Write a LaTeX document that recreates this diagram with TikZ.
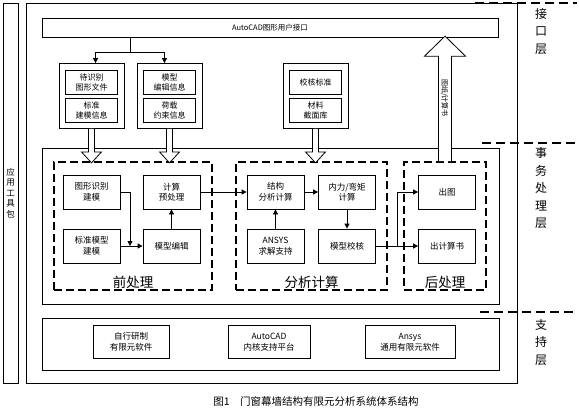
\documentclass[tikz,border=0pt]{standalone}
\usepackage{fontspec}
\setmainfont{Noto Sans CJK SC}
\usepackage{tikz}
\usetikzlibrary{arrows.meta,positioning}

\begin{document}
\begin{tikzpicture}[
x=1pt,y=-1pt,
font=\fontsize{8.5}{10.5}\selectfont,
line width=0.8pt,
frame/.style={draw, rectangle, inner sep=0pt},
blk/.style={draw, rectangle, minimum width=57pt, minimum height=34pt, align=center, inner sep=1pt},
item/.style={draw, rectangle, minimum width=52pt, minimum height=24pt, align=center, inner sep=1pt, font=\fontsize{8}{10}\selectfont},
grp/.style={draw, rectangle, minimum width=65pt, minimum height=65pt},
soft/.style={draw, rectangle, minimum height=33pt, align=center, inner sep=1pt},
stage/.style={draw, rectangle, line width=1.7pt, dash pattern=on 8pt off 4pt, minimum height=128pt},
stagelbl/.style={font=\fontsize{13.5}{16}\selectfont, inner sep=0pt},
layer/.style={align=center, font=\fontsize{12}{17.5}\selectfont},
sep/.style={line width=1.7pt, dash pattern=on 9pt off 5pt},
arr/.style={-{Triangle[length=5pt,width=5pt]}},
hollow/.style={draw, fill=white, line join=miter}
]
\useasboundingbox (0,0) rectangle (579,408);
\node[frame, minimum width=15pt, minimum height=380pt, align=center, font=\fontsize{8.5}{10.5}\selectfont] (tools) at (10.5,193) {应\\用\\工\\具\\包};
\node[frame, minimum width=491pt, minimum height=380pt] (sys) at (271.5,193) {};
\node[frame, minimum width=456pt, minimum height=19pt, font=\fontsize{7.5}{9}\selectfont] (cadui) at (270,27.5) {AutoCAD图形用户接口};
\node[frame, minimum width=457pt, minimum height=156pt] (biz) at (270.5,226) {};
\node[frame, minimum width=457pt, minimum height=52pt] (sup) at (270.5,344) {};
\node[grp] (grpA) at (91.5,96) {};
\node[item] (wait) at (91.5,82) {待识别\\图形文件};
\node[item] (stdi) at (91.5,110.5) {标准\\建模信息};
\node[grp] (grpB) at (169.5,96) {};
\node[item] (medit) at (169.5,82) {模型\\编辑信息};
\node[item] (load) at (169.5,110.5) {荷载\\约束信息};
\node[grp] (grpC) at (315.5,96) {};
\node[item] (crit) at (315.5,82) {校核标准};
\node[item] (lib) at (315.5,110.5) {材料\\截面库};
\coordinate (tee) at (130,52);
\draw (cadui.south -| tee) -- (tee);
\draw[arr] (tee) -| ([xshift=4pt]grpA.north);
\draw[arr] (tee) -| ([xshift=-5pt]grpB.north);
\node[stage, minimum width=158pt] (pre) at (133,226) {};
\node[stage, minimum width=151pt] (ana) at (311.5,226) {};
\node[stage, minimum width=82pt] (post) at (445,226) {};
\node[stagelbl, above=2pt of pre.south] (prelbl) {前处理};
\node[stagelbl, above=2pt of ana.south] (analbl) {分析计算};
\node[stagelbl, above=2pt of post.south] (postlbl) {后处理};
\node[blk] (recog) at (91.5,192) {图形识别\\建模};
\node[blk] (stdm) at (91.5,246) {标准模型\\建模};
\node[blk] (prep) at (171.5,192) {计算\\预处理};
\node[blk] (edit) at (171.5,246) {模型编辑};
\node[blk] (struct) at (275.5,192) {结构\\分析计算};
\node[blk] (ansys) at (275.5,246) {ANSYS\\求解支持};
\node[blk] (force) at (347,192) {内力/弯矩\\计算};
\node[blk] (verify) at (347,246) {模型校核};
\node[blk] (plot) at (447,192) {出图};
\node[blk] (report) at (447,246) {出计算书};
\coordinate (mrg) at (130,246);
\coordinate (fork) at (397,246);
\draw[arr] (stdm) -- (edit);
\draw[arr] (recog.east) -| (mrg);
\draw[arr] (edit) -- (prep);
\draw[arr] (prep) -- (struct);
\draw[arr] (ansys) -- (struct);
\draw[arr] (struct) -- (force);
\draw[arr] (force) -- (verify);
\draw[arr] (verify) -- (report);
\draw[arr] (fork) |- (plot.west);
\foreach \g in {grpA,grpB,grpC}
  \draw[hollow] ([xshift=-3pt]\g.south) -- ++(0,23) -- ++(-7,0) -- ++(10,11) -- ++(10,-11) -- ++(-7,0) -- ++(0,-23);
\draw[hollow] ([xshift=-6.5pt]post.north) -- ++(0,-105) -- ++(-14,0) -- ++(20.5,-20) -- ++(20.5,20) -- ++(-14,0) -- ++(0,105);
\node[rotate=-90, font=\fontsize{7}{8}\selectfont, inner sep=0pt] (outfmt) at (444.5,98) {图纸/计算书};
\node[soft, minimum width=76pt] (own) at (131,342) {自行研制\\有限元软件};
\node[soft, minimum width=82pt] (acad) at (269,342) {AutoCAD\\内核支持平台};
\node[soft, minimum width=90pt] (ansfe) at (410,342) {Ansys\\通用有限元软件};
\draw[sep] (475,3) -- (577,3);
\draw[sep] (482,143) -- (577,143);
\draw[sep] (480,312) -- (577,312);
\node[layer] (lyrA) at (541,31) {接\\口\\层};
\node[layer] (lyrB) at (541,188) {事\\务\\处\\理\\层};
\node[layer] (lyrC) at (541,342) {支\\持\\层};
\node[font=\fontsize{10.5}{12}\selectfont] (cap) at (316,401) {图1\quad 门窗幕墙结构有限元分析系统体系结构};
\end{tikzpicture}
\end{document}
